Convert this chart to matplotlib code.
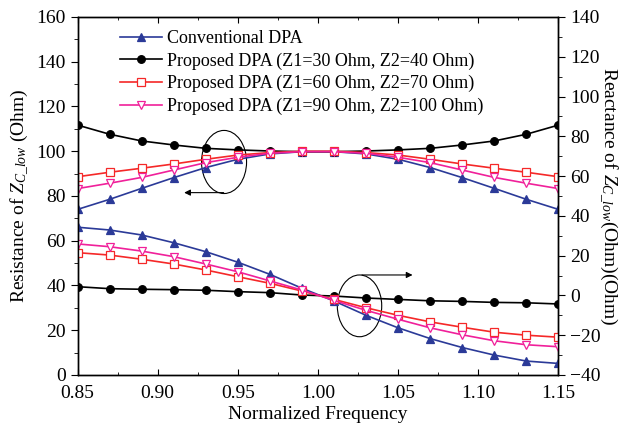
import matplotlib
matplotlib.use("Agg")
import matplotlib.pyplot as plt
from matplotlib.patches import Ellipse
from matplotlib.ticker import MultipleLocator, FormatStrFormatter

plt.rcParams["font.family"] = ["Liberation Serif", "DejaVu Serif"]
plt.rcParams["mathtext.fontset"] = "custom"
plt.rcParams["mathtext.rm"] = "Liberation Serif"
plt.rcParams["mathtext.it"] = "Liberation Serif:italic"

# Normalized frequency points
freq = [0.85, 0.87, 0.89, 0.91, 0.93, 0.95, 0.97, 0.99,
        1.01, 1.03, 1.05, 1.07, 1.09, 1.11, 1.13, 1.15]

# Resistance (left axis)
res_conv = [74, 78.5, 83.4, 88.2, 92.7, 96.4, 98.8, 99.8,
            99.8, 98.8, 96.4, 92.7, 88.2, 83.4, 78.5, 74]
res_30_40 = [111.7, 107.6, 104.6, 102.8, 101.3, 100.6, 100.1, 99.8,
             99.8, 100.1, 100.6, 101.3, 102.8, 104.6, 107.6, 111.7]
res_60_70 = [88.6, 90.6, 92.4, 94.3, 96.4, 98.3, 99.4, 100,
             100, 99.4, 98.3, 96.4, 94.3, 92.4, 90.6, 88.6]
res_90_100 = [83.3, 85.7, 88.3, 91.6, 94.9, 97.3, 99.1, 99.8,
              99.8, 99.1, 97.3, 94.9, 91.6, 88.3, 85.7, 83.3]

# Reactance (right axis)
x_conv = [34.3, 32.9, 30.4, 26.5, 22.0, 16.7, 10.6, 3.6,
          -2.8, -10.0, -16.3, -21.7, -26.2, -30.0, -33.0, -34.2]
x_30_40 = [4.4, 3.4, 3.1, 2.9, 2.6, 1.9, 1.4, 0.2,
           -0.3, -1.3, -2.0, -2.7, -3.0, -3.5, -3.7, -4.3]
x_60_70 = [21.5, 20.3, 18.2, 15.8, 12.8, 9.4, 6.1, 2.2,
           -2.0, -6.2, -10.0, -13.3, -16.0, -18.5, -20.0, -21.0]
x_90_100 = [25.9, 24.5, 22.3, 19.5, 15.8, 11.9, 7.3, 2.7,
            -2.5, -7.5, -12.0, -16.3, -19.8, -22.8, -24.8, -25.8]

labels = ["Conventional DPA",
          "Proposed DPA (Z1=30 Ohm, Z2=40 Ohm)",
          "Proposed DPA (Z1=60 Ohm, Z2=70 Ohm)",
          "Proposed DPA (Z1=90 Ohm, Z2=100 Ohm)"]

blue = "#2B3A98"
red = "#F52828"
pink = "#F0209A"

styles = [
    dict(color=blue, marker="^", mfc=blue, mec=blue),
    dict(color="black", marker="o", mfc="black", mec="black"),
    dict(color=red, marker="s", mfc="white", mec=red),
    dict(color=pink, marker="v", mfc="white", mec=pink),
]

fig = plt.figure(figsize=(6.24, 4.29), dpi=100)
ax = fig.add_axes([0.1242, 0.1259, 0.7708, 0.8345])
ax2 = ax.twinx()

handles = []
for ys, st, lab in zip([res_conv, res_30_40, res_60_70, res_90_100], styles, labels):
    h, = ax.plot(freq, ys, lw=1.2, ms=5.5, mew=0.9, label=lab, **st)
    handles.append(h)
for ys, st in zip([x_conv, x_30_40, x_60_70, x_90_100], styles):
    ax2.plot(freq, ys, lw=1.2, ms=5.5, mew=0.9, **st)

ax.set_xlim(0.85, 1.15)
ax.set_ylim(0, 160)
ax2.set_ylim(-40, 140)

ax.xaxis.set_major_locator(MultipleLocator(0.05))
ax.xaxis.set_minor_locator(MultipleLocator(0.025))
ax.xaxis.set_major_formatter(FormatStrFormatter("%.2f"))
ax.yaxis.set_major_locator(MultipleLocator(20))
ax.yaxis.set_minor_locator(MultipleLocator(10))
ax2.yaxis.set_major_locator(MultipleLocator(20))
ax2.yaxis.set_minor_locator(MultipleLocator(10))

ax.tick_params(axis="x", which="both", direction="in", top=True, labelsize=14, pad=7)
ax.tick_params(axis="x", which="major", length=4)
ax.tick_params(axis="x", which="minor", length=2.5)
ax.tick_params(axis="y", which="both", direction="out", labelsize=14)
ax.tick_params(axis="y", which="major", length=5)
ax.tick_params(axis="y", which="minor", length=3)
ax2.tick_params(axis="y", which="both", direction="out", labelsize=14)
ax2.tick_params(axis="y", which="major", length=5)
ax2.tick_params(axis="y", which="minor", length=3)

ax.set_xlabel("Normalized Frequency", fontsize=14, labelpad=3)
ax.set_ylabel(r"Resistance of $Z_{C\_low}$ (Ohm)", fontsize=14, labelpad=4)
ax2.set_ylabel(r"Reactance of $Z_{C\_low}$(Ohm)(Ohm)", fontsize=14,
               rotation=-90, labelpad=13)

for a in (ax, ax2):
    for s in a.spines.values():
        s.set_linewidth(1.0)

# Ellipses and arrows marking the axes
ax.add_patch(Ellipse((0.9414, 95.2), 0.0281, 28.2, fill=False, lw=0.8, ec="black"))
ax.annotate("", xy=(0.9148, 81.5), xytext=(0.9429, 81.5),
            arrowprops=dict(arrowstyle="-|>", lw=0.8, color="black", mutation_scale=9))
ax.add_patch(Ellipse((1.0259, 30.9), 0.0277, 27.6, fill=False, lw=0.8, ec="black"))
ax.annotate("", xy=(1.0607, 44.7), xytext=(1.0257, 44.7),
            arrowprops=dict(arrowstyle="-|>", lw=0.8, color="black", mutation_scale=9))

ax2.legend(handles, labels, loc="upper left", bbox_to_anchor=(0.193, 0.93),
           bbox_transform=fig.transFigure, frameon=False, fontsize=13,
           handlelength=2.3, handletextpad=0.3, labelspacing=0.3,
           borderaxespad=0, borderpad=0)

fig.savefig("out.png", dpi=100)
